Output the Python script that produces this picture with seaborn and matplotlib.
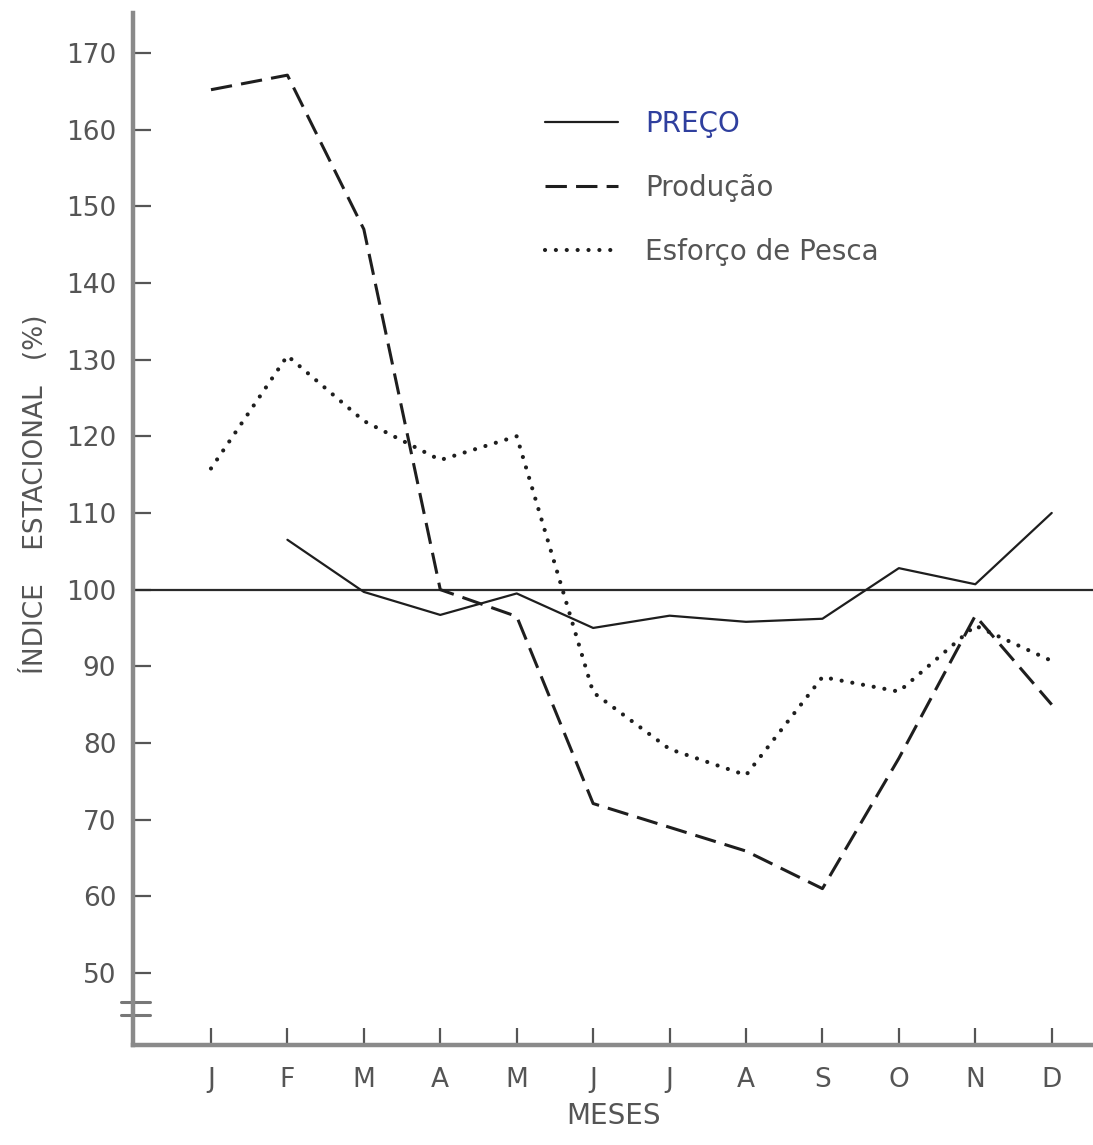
import numpy as np
import matplotlib
matplotlib.use("Agg")
import matplotlib.pyplot as plt
import seaborn as sns
import pandas as pd

# Dados (índice estacional, %)
meses = ["J", "F", "M", "A", "M", "J", "J", "A", "S", "O", "N", "D"]
preco = [np.nan, 106.5, 99.7, 96.7, 99.5, 95.0, 96.6, 95.8, 96.2, 102.8, 100.7, 110.0]
producao = [165.2, 167.1, 147.0, 100.0, 96.5, 72.1, 69.0, 65.9, 61.0, 78.0, 96.6, 85.0]
esforco = [115.8, 130.5, 122.0, 116.9, 120.0, 86.6, 79.2, 75.8, 88.6, 86.7, 95.3, 90.7]
y_ticks = [50, 60, 70, 80, 90, 100, 110, 120, 130, 140, 150, 160, 170]

idx = np.arange(len(meses))
df = pd.DataFrame({"mes": idx, "Preço": preco, "Produção": producao,
                   "Esforço de Pesca": esforco})

sns.set_style("white")
plt.rcParams["font.family"] = ["DejaVu Sans"]

fig = plt.figure(figsize=(10.93, 11.45), dpi=100)
ax = fig.add_axes([0.1217, 0.0873, 0.8783, 0.9013])

ink = "#1e1e1e"
sns.lineplot(data=df, x="mes", y="Preço", ax=ax, color=ink, lw=1.6,
             label="PREÇO")
sns.lineplot(data=df, x="mes", y="Produção", ax=ax, color=ink, lw=2.2,
             linestyle=(0, (7, 3)), label="Produção")
sns.lineplot(data=df, x="mes", y="Esforço de Pesca", ax=ax, color=ink, lw=3.0,
             linestyle=(0, (0.01, 2.6)), dash_capstyle="round",
             label="Esforço de Pesca")

# linha de referência 100
ax.axhline(100, color="#2a2a2a", lw=1.6, zorder=1)

ax.set_xlim(-1.02, 11.54)
ax.set_ylim(40.6, 175.2)
ax.set_xticks(idx)
ax.set_xticklabels(meses)
ax.set_yticks(y_ticks)

ax.tick_params(axis="both", direction="in", colors="#555555",
               labelsize=19, width=1.6, length=13, pad=12,
               left=True, bottom=True)
ax.tick_params(axis="x", length=12, pad=16)

for s in ["top", "right"]:
    ax.spines[s].set_visible(False)
for s in ["left", "bottom"]:
    ax.spines[s].set_color("#8a8a8a")
    ax.spines[s].set_linewidth(3.2)

# quebra do eixo
for yb in (46.2, 44.5):
    ax.plot([-1.18, -0.80], [yb, yb], color="#777777", lw=2.2, clip_on=False)

ax.set_ylabel("ÍNDICE    ESTACIONAL   (%)", fontsize=19, color="#555555")
ax.yaxis.set_label_coords(-0.088, 0.534)
ax.set_xlabel("MESES", fontsize=20, color="#555555")
ax.xaxis.set_label_coords(0.5, -0.055)

leg = ax.legend(loc="upper left", bbox_to_anchor=(0.415, 0.92),
                frameon=False, fontsize=20, handlelength=2.6,
                handletextpad=1.0, labelspacing=1.3, borderpad=0)
for t in leg.get_texts():
    t.set_color("#555555")
leg.get_texts()[0].set_color("#2f3f9e")

fig.savefig("out.png", dpi=100)
